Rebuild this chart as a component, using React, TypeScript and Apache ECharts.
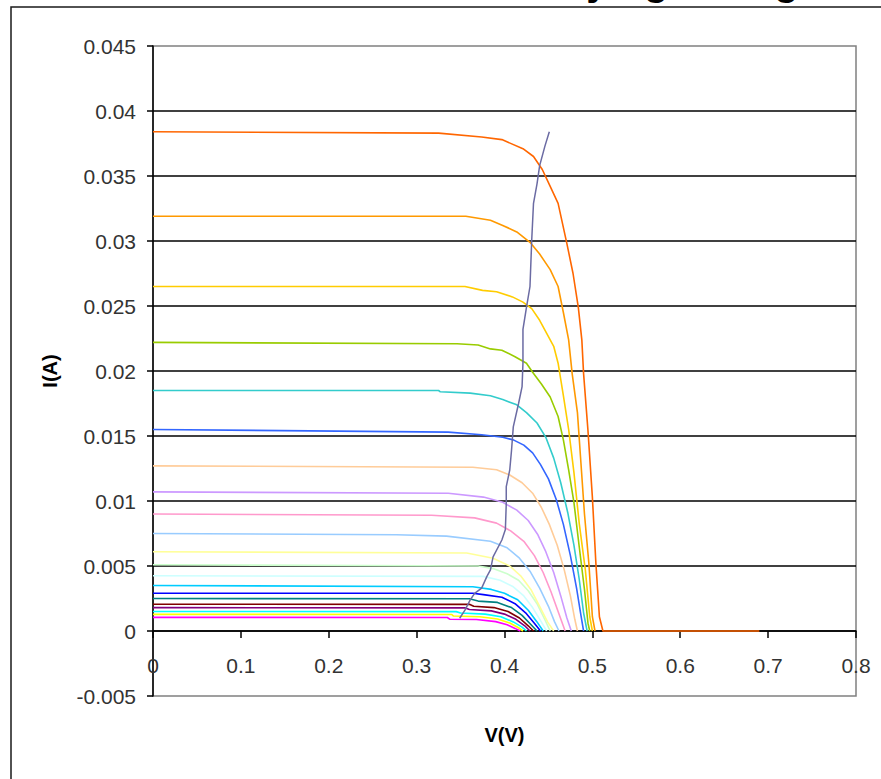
import React, { useEffect, useRef } from "react";
import * as echarts from "echarts";

// Tick labels
const xTickLabels = ["0", "0.1", "0.2", "0.3", "0.4", "0.5", "0.6", "0.7", "0.8"];
const yTickLabels = ["-0.005", "0", "0.005", "0.01", "0.015", "0.02", "0.025", "0.03", "0.035", "0.04", "0.045"];

// I-V curves [V, I], lowest short-circuit current first (Excel series order)
const ivMagenta = [[0, 0.00105], [0.335, 0.00104], [0.338, 0.0009], [0.368, 0.00088], [0.39, 0.00072], [0.403, 0.00048], [0.412, 0.0002], [0.418, 0]];
const ivYellow = [[0, 0.00128], [0.34, 0.00127], [0.342, 0.00115], [0.372, 0.0011], [0.392, 0.00092], [0.406, 0.00062], [0.416, 0.00025], [0.421, 0]];
const ivCyan = [[0, 0.0015], [0.345, 0.00149], [0.35, 0.00138], [0.378, 0.0013], [0.396, 0.0011], [0.41, 0.0007], [0.42, 0.0003], [0.425, 0]];
const ivViolet = [[0, 0.0018], [0.355, 0.00178], [0.36, 0.00165], [0.385, 0.00155], [0.4, 0.0013], [0.413, 0.0009], [0.423, 0.0004], [0.429, 0]];
const ivDarkRed = [[0, 0.00206], [0.36, 0.00205], [0.365, 0.0019], [0.388, 0.0018], [0.404, 0.0015], [0.417, 0.001], [0.427, 0.0004], [0.433, 0]];
const ivTeal = [[0, 0.0025], [0.36, 0.00248], [0.37, 0.0023], [0.392, 0.0022], [0.408, 0.0018], [0.42, 0.0012], [0.43, 0.0005], [0.437, 0]];
const ivBlue = [[0, 0.0029], [0.364, 0.0029], [0.376, 0.0028], [0.397, 0.0026], [0.412, 0.0021], [0.424, 0.0014], [0.434, 0.0006], [0.441, 0]];
const ivSkyBlue = [[0, 0.0035], [0.364, 0.0034], [0.385, 0.0032], [0.4, 0.0029], [0.415, 0.0024], [0.427, 0.0016], [0.437, 0.0007], [0.444, 0]];
const ivLightCyan = [[0, 0.00425], [0.376, 0.0042], [0.395, 0.0039], [0.41, 0.0034], [0.422, 0.0027], [0.432, 0.0018], [0.441, 0.0008], [0.448, 0]];
const ivLightGreen = [[0, 0.0051], [0.37, 0.005], [0.387, 0.0048], [0.403, 0.0044], [0.416, 0.0039], [0.427, 0.0031], [0.437, 0.0021], [0.445, 0.001], [0.452, 0]];
const ivLightYellow = [[0, 0.0061], [0.357, 0.006], [0.387, 0.0056], [0.406, 0.005], [0.419, 0.0042], [0.43, 0.0032], [0.44, 0.0019], [0.449, 0.0007], [0.456, 0]];
const ivPaleBlue = [[0, 0.0075], [0.277, 0.0074], [0.334, 0.0073], [0.384, 0.0069], [0.403, 0.0064], [0.417, 0.0056], [0.429, 0.0046], [0.44, 0.0033], [0.45, 0.0019], [0.457, 0.0007], [0.462, 0]];
const ivRose = [[0, 0.009], [0.317, 0.0089], [0.366, 0.0087], [0.391, 0.0083], [0.407, 0.0077], [0.422, 0.0069], [0.434, 0.0058], [0.444, 0.0045], [0.453, 0.003], [0.461, 0.0015], [0.469, 0]];
const ivLavender = [[0, 0.0107], [0.336, 0.0106], [0.376, 0.0103], [0.398, 0.0099], [0.414, 0.0093], [0.427, 0.0085], [0.438, 0.0074], [0.447, 0.0061], [0.456, 0.0045], [0.464, 0.0027], [0.471, 0.001], [0.476, 0]];
const ivTan = [[0, 0.0127], [0.364, 0.0126], [0.391, 0.0124], [0.406, 0.012], [0.42, 0.0114], [0.432, 0.0106], [0.442, 0.0095], [0.451, 0.0082], [0.46, 0.0066], [0.468, 0.0047], [0.475, 0.0027], [0.48, 0.0009], [0.483, 0]];
const ivLightBlue = [[0, 0.0155], [0.336, 0.0153], [0.374, 0.0151], [0.398, 0.0149], [0.41, 0.0147], [0.422, 0.0143], [0.432, 0.0137], [0.441, 0.0128], [0.45, 0.0117], [0.459, 0.0101], [0.467, 0.0082], [0.475, 0.0058], [0.482, 0.0033], [0.487, 0.0012], [0.49, 0]];
const ivAqua = [[0, 0.0185], [0.325, 0.0185], [0.327, 0.0184], [0.361, 0.0183], [0.384, 0.0181], [0.398, 0.0178], [0.414, 0.0174], [0.425, 0.0168], [0.437, 0.016], [0.447, 0.0149], [0.456, 0.0133], [0.464, 0.0114], [0.472, 0.0091], [0.479, 0.0066], [0.485, 0.004], [0.49, 0.0014], [0.494, 0]];
const ivLime = [[0, 0.0222], [0.346, 0.0221], [0.37, 0.022], [0.384, 0.0217], [0.397, 0.0216], [0.412, 0.0211], [0.425, 0.0206], [0.432, 0.0199], [0.442, 0.019], [0.452, 0.018], [0.461, 0.0165], [0.467, 0.0147], [0.473, 0.0124], [0.479, 0.0099], [0.485, 0.0065], [0.491, 0.0032], [0.495, 0.0006], [0.497, 0]];
const ivGold = [[0, 0.0265], [0.355, 0.0265], [0.375, 0.0262], [0.391, 0.0261], [0.409, 0.0257], [0.421, 0.0253], [0.431, 0.0248], [0.44, 0.0239], [0.448, 0.0229], [0.456, 0.0219], [0.461, 0.0206], [0.467, 0.0181], [0.473, 0.0155], [0.479, 0.0122], [0.485, 0.0083], [0.492, 0.0047], [0.497, 0.0011], [0.5, 0]];
const ivLightOrange = [[0, 0.0319], [0.356, 0.0319], [0.384, 0.0316], [0.398, 0.0312], [0.414, 0.0307], [0.429, 0.0299], [0.44, 0.029], [0.452, 0.0278], [0.461, 0.0265], [0.467, 0.0245], [0.473, 0.0224], [0.477, 0.0198], [0.483, 0.0168], [0.487, 0.0129], [0.491, 0.009], [0.496, 0.0052], [0.5, 0.0011], [0.503, 0]];
const ivOrange = [[0, 0.0384], [0.325, 0.0383], [0.374, 0.038], [0.397, 0.0378], [0.421, 0.0371], [0.433, 0.0365], [0.443, 0.0355], [0.452, 0.0342], [0.461, 0.0329], [0.471, 0.0298], [0.478, 0.0275], [0.484, 0.0249], [0.488, 0.0224], [0.49, 0.0198], [0.495, 0.0154], [0.5, 0.0103], [0.504, 0.0052], [0.508, 0.0011], [0.512, 0], [0.69, 0]];

// Maximum power point trace
const mppTrace = [[0.349, 0.00098], [0.355, 0.0016], [0.361, 0.0024], [0.366, 0.0029], [0.374, 0.0033], [0.38, 0.0042], [0.384, 0.0047], [0.387, 0.0057], [0.397, 0.007], [0.401, 0.0078], [0.402, 0.0098], [0.402, 0.0111], [0.406, 0.0124], [0.408, 0.0139], [0.41, 0.0157], [0.416, 0.0175], [0.42, 0.0188], [0.421, 0.0206], [0.421, 0.0232], [0.425, 0.0249], [0.429, 0.0265], [0.431, 0.0301], [0.433, 0.0329], [0.437, 0.0344], [0.44, 0.0358], [0.446, 0.0373], [0.451, 0.0384]];

const curveData = [ivMagenta, ivYellow, ivCyan, ivViolet, ivDarkRed, ivTeal, ivBlue, ivSkyBlue, ivLightCyan, ivLightGreen, ivLightYellow, ivPaleBlue, ivRose, ivLavender, ivTan, ivLightBlue, ivAqua, ivLime, ivGold, ivLightOrange, ivOrange];
const curveColors = ["#FF00FF", "#FFFF00", "#00FFFF", "#800080", "#800000", "#008080", "#0000FF", "#00CCFF", "#CCFFFF", "#CCFFCC", "#FFFF99", "#99CCFF", "#FF99CC", "#CC99FF", "#FFCC99", "#3366FF", "#33CCCC", "#99CC00", "#FFCC00", "#FF9900", "#FF6600"];
const mppColor = "#6B6BA3";

export default function App() {
  const ref = useRef<HTMLDivElement>(null);
  useEffect(() => {
    if (!ref.current) return;
    const chart = echarts.init(ref.current, undefined, { renderer: "svg" });
    const font = "'Liberation Sans', Arial, sans-serif";
    const series: any[] = curveData.map((d, i) => ({
      type: "line",
      name: "Curve " + (i + 1),
      data: d,
      symbol: "none",
      showSymbol: false,
      lineStyle: { width: 1.6, color: curveColors[i] },
      itemStyle: { color: curveColors[i] },
      z: 2 + i * 0.01,
    }));
    series.push({
      type: "line",
      name: "MPP",
      data: mppTrace,
      symbol: "none",
      showSymbol: false,
      lineStyle: { width: 1.5, color: mppColor },
      itemStyle: { color: mppColor },
      z: 3,
    });
    chart.setOption({
      animation: false,
      backgroundColor: "#ffffff",
      textStyle: { fontFamily: font },
      grid: {
        left: 153,
        top: 46,
        width: 703,
        height: 650,
        show: true,
        borderColor: "#808080",
        borderWidth: 1.5,
        backgroundColor: "transparent",
        containLabel: false,
        outerBoundsMode: "none",
      },
      xAxis: {
        type: "value",
        min: 0,
        max: 0.8,
        interval: 0.1,
        name: "V(V)",
        nameLocation: "middle",
        nameGap: 29,
        nameTextStyle: { fontSize: 20, fontWeight: "bold", color: "#000", fontFamily: font },
        axisLine: { show: true, onZero: true, lineStyle: { color: "#000", width: 1.5 } },
        axisTick: { show: true, length: 7, lineStyle: { color: "#000", width: 1.5 } },
        axisLabel: {
          margin: -41,
          fontSize: 21,
          color: "#333",
          fontFamily: font,
          formatter: (v: number) => xTickLabels[Math.round(v / 0.1)] ?? "",
        },
        splitLine: { show: false },
      },
      yAxis: {
        type: "value",
        min: -0.005,
        max: 0.045,
        interval: 0.005,
        name: "I(A)",
        nameLocation: "middle",
        nameGap: 93,
        nameRotate: 90,
        nameTextStyle: { fontSize: 20, fontWeight: "bold", color: "#000", fontFamily: font },
        axisLine: { show: true, onZero: false, lineStyle: { color: "#000", width: 1.5 } },
        axisTick: { show: true, length: 6, lineStyle: { color: "#000", width: 1.5 } },
        axisLabel: {
          margin: 17,
          fontSize: 21,
          color: "#333",
          fontFamily: font,
          formatter: (v: number) => yTickLabels[Math.round((v + 0.005) / 0.005)] ?? "",
        },
        splitLine: {
          show: true,
          showMinLine: false,
          showMaxLine: false,
          lineStyle: { color: "#000", width: 1.5 },
        },
      },
      graphic: [
        {
          type: "rect",
          silent: true,
          shape: { x: 11, y: 7, width: 1000, height: 1000 },
          style: { fill: "none", stroke: "#1a1a1a", lineWidth: 1.5 },
        },
        {
          type: "text",
          silent: true,
          x: 821,
          y: -19,
          style: {
            text: "I-V Curves at Varying Voltage",
            fontSize: 40,
            fontWeight: "bold",
            fontFamily: font,
            fill: "#000",
            align: "right",
            verticalAlign: "middle",
          },
        },
      ],
      series,
    });
    return () => chart.dispose();
  }, []);
  return (
    <div
      ref={ref}
      style={{ position: "fixed", left: 0, top: 0, width: 881, height: 779, background: "#fff" }}
    />
  );
}
